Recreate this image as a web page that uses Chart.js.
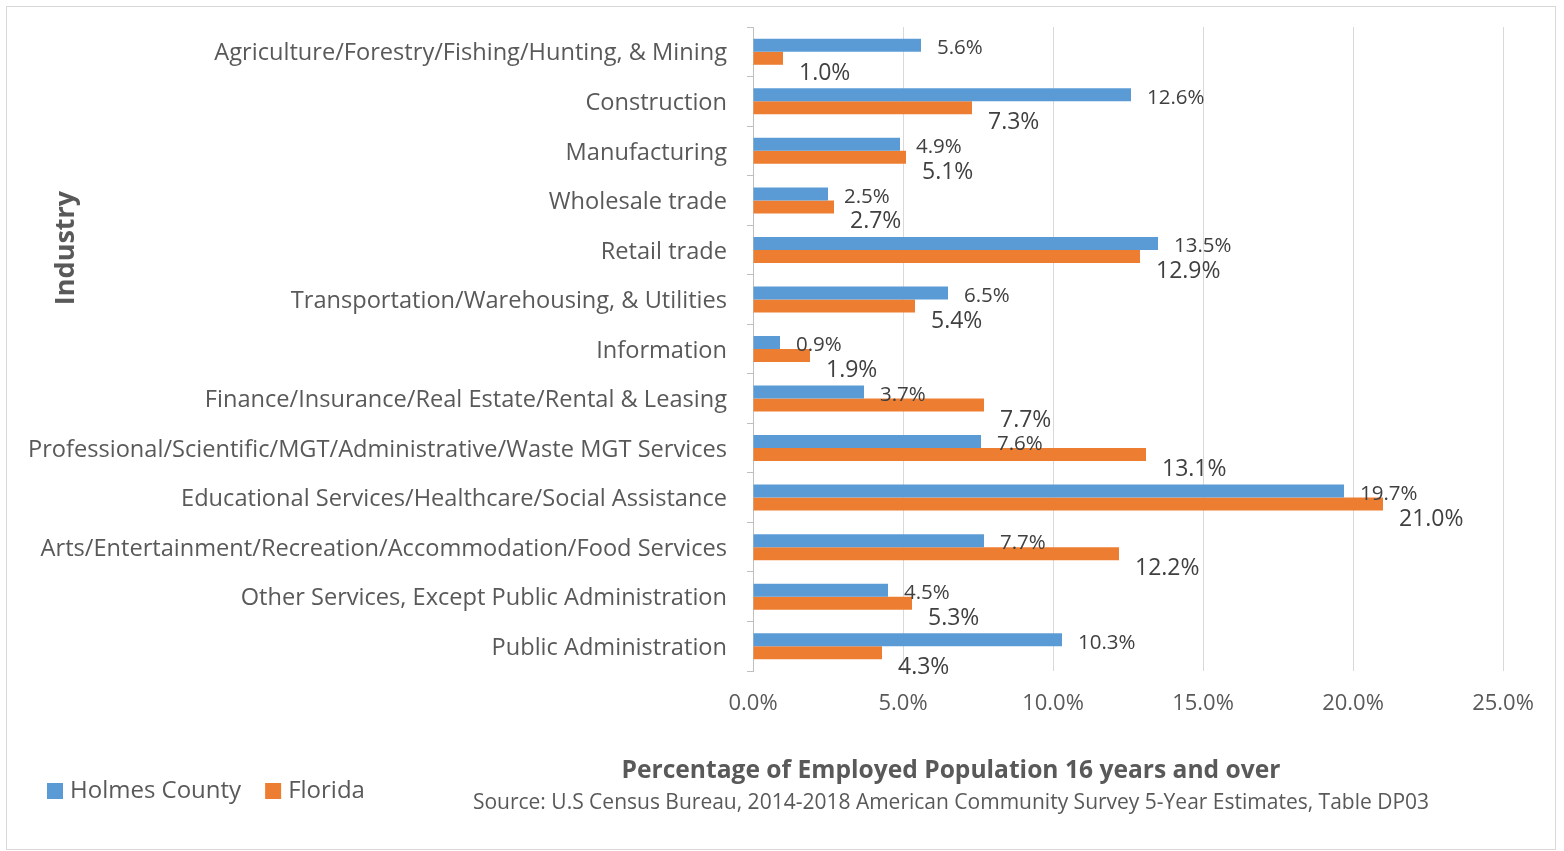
<!DOCTYPE html>
<html>
<head>
<meta charset="utf-8">
<script src="https://cdn.jsdelivr.net/npm/chart.js@4.4.1/dist/chart.umd.min.js"></script>
<style>
  html, body { margin: 0; padding: 0; background: #fff; }
  #wrap { position: relative; width: 1564px; height: 851px; }
  #frame { position: absolute; left: 6px; top: 6px; width: 1550px; height: 844px; border: 1px solid #d9d9d9; box-sizing: border-box; pointer-events: none; }
  canvas { position: absolute; left: 0; top: 0; }
</style>
</head>
<body>
<div id="wrap">
  <canvas id="c" width="1564" height="851"></canvas>
  <div id="frame"></div>
</div>
<script>
const categories = [
  "Agriculture/Forestry/Fishing/Hunting, & Mining",
  "Construction",
  "Manufacturing",
  "Wholesale trade",
  "Retail trade",
  "Transportation/Warehousing, & Utilities",
  "Information",
  "Finance/Insurance/Real Estate/Rental & Leasing",
  "Professional/Scientific/MGT/Administrative/Waste MGT Services",
  "Educational Services/Healthcare/Social Assistance",
  "Arts/Entertainment/Recreation/Accommodation/Food Services",
  "Other Services, Except Public Administration",
  "Public Administration"
];
const holmesValues  = [5.6, 12.6, 4.9, 2.5, 13.5, 6.5, 0.9, 3.7, 7.6, 19.7, 7.7, 4.5, 10.3];
const floridaValues = [1.0, 7.3, 5.1, 2.7, 12.9, 5.4, 1.9, 7.7, 13.1, 21.0, 12.2, 5.3, 4.3];
const seriesNames = ["Holmes County", "Florida"];
const xTickValues = [0, 5, 10, 15, 20, 25];
const xAxisTitle = "Percentage of Employed Population 16 years and over";
const sourceText = "Source: U.S Census Bureau, 2014-2018 American Community Survey 5-Year Estimates, Table DP03";
const yAxisTitle = "Industry";

const FONT = "'Open Sans', 'Noto Sans', sans-serif";
const BLUE = "#5B9BD5";
const ORANGE = "#ED7D31";
const GREY_TEXT = "#595959";

const dataLabels = {
  id: 'dataLabels',
  afterDatasetsDraw(chart) {
    const ctx = chart.ctx;
    ctx.save();
    ctx.textAlign = 'left';
    ctx.textBaseline = 'middle';
    ctx.fillStyle = '#404040';
    chart.data.datasets.forEach((ds, di) => {
      const meta = chart.getDatasetMeta(di);
      ctx.font = (di === 0 ? '20.5px ' : '23px ') + FONT;
      meta.data.forEach((el, i) => {
        const v = ds.data[i];
        const dy = di === 0 ? 3 : 15;
        ctx.fillText(v.toFixed(1) + '%', el.x + 16, el.y + dy);
      });
    });
    ctx.restore();
  }
};

const extras = {
  id: 'extras',
  afterDraw(chart) {
    const ctx = chart.ctx;
    ctx.save();
    ctx.fillStyle = GREY_TEXT;
    ctx.font = 'bold 27px ' + FONT;
    ctx.textAlign = 'center';
    ctx.textBaseline = 'middle';
    ctx.translate(66, 248);
    ctx.rotate(-Math.PI / 2);
    ctx.fillText(yAxisTitle, 0, 0);
    ctx.restore();

    ctx.save();
    ctx.fillStyle = GREY_TEXT;
    ctx.textAlign = 'center';
    ctx.textBaseline = 'middle';
    ctx.font = 'bold 24.6px ' + FONT;
    ctx.fillText(xAxisTitle, 951, 771);
    ctx.font = '21px ' + FONT;
    ctx.fillText(sourceText, 951, 803);

    ctx.font = '24px ' + FONT;
    ctx.textAlign = 'left';
    let x = 47;
    const y = 791;
    chart.data.datasets.forEach((ds) => {
      ctx.fillStyle = ds.backgroundColor;
      ctx.fillRect(x, y - 8, 16, 16);
      ctx.fillStyle = GREY_TEXT;
      ctx.fillText(ds.label, x + 23, y);
      x += 23 + ctx.measureText(ds.label).width + 24;
    });
    ctx.restore();
  }
};

new Chart(document.getElementById('c'), {
  type: 'bar',
  data: {
    labels: categories,
    datasets: [
      { label: seriesNames[0], data: holmesValues, backgroundColor: BLUE },
      { label: seriesNames[1], data: floridaValues, backgroundColor: ORANGE }
    ]
  },
  options: {
    indexAxis: 'y',
    responsive: false,
    animation: false,
    devicePixelRatio: 1,
    categoryPercentage: 0.525,
    barPercentage: 1.0,
    layout: { padding: { left: 7, top: 27, right: 61, bottom: 0 } },
    plugins: {
      legend: { display: false },
      tooltip: { enabled: false },
      title: { display: false }
    },
    scales: {
      x: {
        min: 0,
        max: 25,
        afterBuildTicks(scale) { scale.ticks = xTickValues.map(v => ({ value: v })); },
        ticks: {
          callback: v => Number(v).toFixed(1) + '%',
          color: GREY_TEXT,
          font: { family: FONT, size: 22 },
          padding: 20
        },
        grid: { color: '#d9d9d9', lineWidth: 1, drawTicks: false },
        border: { display: false },
        afterFit(scale) {
          scale.height = 180;
          scale.paddingLeft = 0; scale.paddingRight = 0;
        }
      },
      y: {
        type: 'category',
        offset: true,
        ticks: {
          color: GREY_TEXT,
          font: { family: FONT, size: 23.6 },
          padding: 20,
          labelOffset: 2,
          autoSkip: false
        },
        grid: { offset: true, drawOnChartArea: false, drawTicks: true, tickLength: 6, color: '#bfbfbf' },
        border: { display: true, color: '#bfbfbf', width: 1 },
        afterFit(scale) {
          scale.width = 746;
          scale.paddingTop = 0; scale.paddingBottom = 0;
        }
      }
    }
  },
  plugins: [dataLabels, extras]
});
</script>
</body>
</html>
